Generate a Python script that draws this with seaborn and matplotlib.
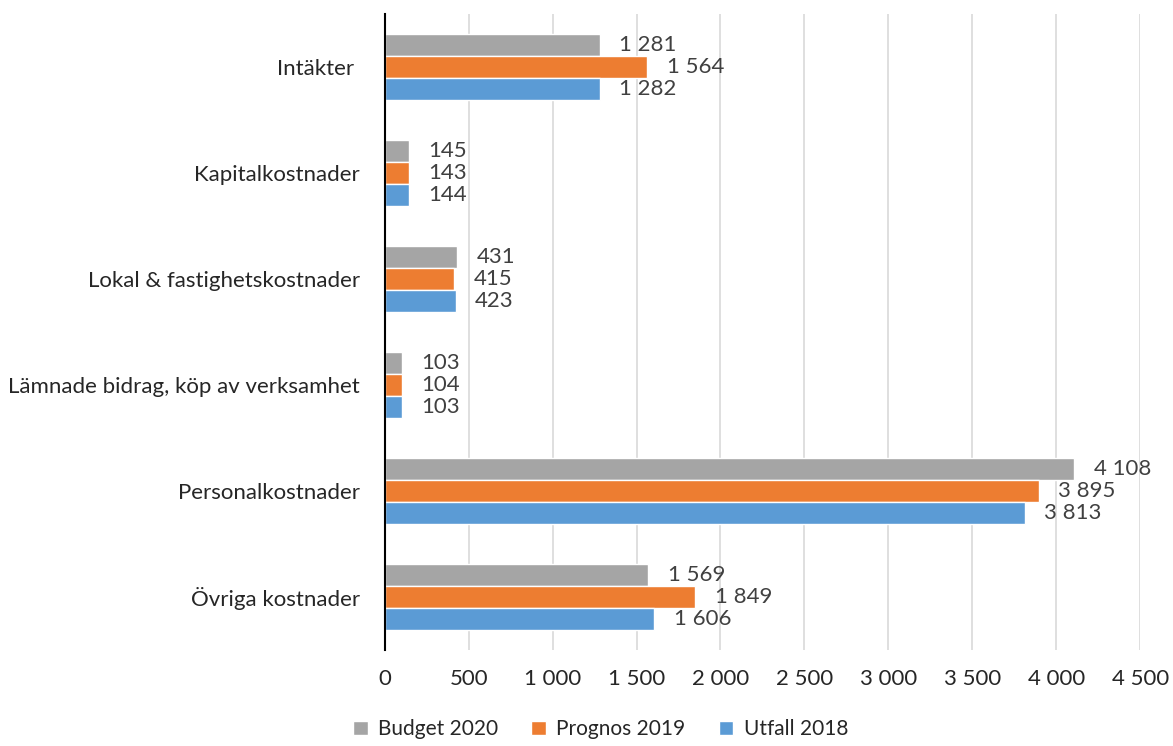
import matplotlib
matplotlib.use("Agg")
import matplotlib.pyplot as plt
import pandas as pd
import seaborn as sns

categories = ["Intäkter ", "Kapitalkostnader", "Lokal & fastighetskostnader",
              "Lämnade bidrag, köp av verksamhet", "Personalkostnader", "Övriga kostnader"]
series = ["Budget 2020", "Prognos 2019", "Utfall 2018"]
budget_2020 = [1281, 145, 431, 103, 4108, 1569]
prognos_2019 = [1564, 143, 415, 104, 3895, 1849]
utfall_2018 = [1282, 144, 423, 103, 3813, 1606]
xticks = list(range(0, 4501, 500))

colors = ["#A5A5A5", "#ED7D31", "#5B9BD5"]

df = pd.DataFrame({
    "category": categories * 3,
    "series": [s for s in series for _ in categories],
    "value": budget_2020 + prognos_2019 + utfall_2018,
})

sns.set_style("white")
plt.rcParams["font.family"] = ["Lato", "DejaVu Sans"]


def fmt(v):
    return f"{v:,.0f}".replace(",", " ")


fig = plt.figure(figsize=(11.73, 7.46), dpi=100)
ax = fig.add_axes([0.328, 0.129, 0.644, 0.852])

sns.barplot(data=df, y="category", x="value", hue="series", order=categories,
            hue_order=series, palette=colors, width=0.62, orient="h",
            saturation=1, ax=ax, legend=True)

for cont in ax.containers:
    ax.bar_label(cont, labels=[fmt(b.get_width()) for b in cont], padding=14,
                 fontsize=16, color="#404040")

ax.set_xlim(0, 4500)
ax.set_xticks(xticks)
ax.set_xticklabels([fmt(t) for t in xticks], fontsize=16)
ax.tick_params(axis="y", labelsize=16, length=0, pad=18)
ax.tick_params(axis="x", length=0, pad=14)
ax.set_xlabel("")
ax.set_ylabel("")
ax.xaxis.grid(True, color="#D9D9D9", linewidth=1.2)
ax.set_axisbelow(True)
for s in ["top", "right", "bottom"]:
    ax.spines[s].set_visible(False)
ax.spines["left"].set_color("black")
ax.spines["left"].set_linewidth(1.5)

handles, labels = ax.get_legend_handles_labels()
ax.legend_.remove()
fig.legend(handles, labels, loc="lower center", bbox_to_anchor=(0.512, -0.016), ncol=3,
           frameon=False, fontsize=15, handlelength=0.7, handleheight=0.7,
           columnspacing=1.6, handletextpad=0.5)

fig.savefig("out.png", dpi=100)
